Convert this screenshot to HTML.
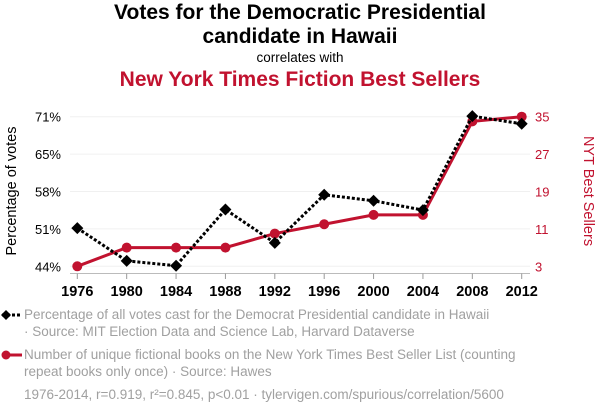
<!DOCTYPE html>
<html><head><meta charset="utf-8"><style>
body{margin:0;background:#fff;font-family:"Liberation Sans",sans-serif}
#wrap{position:relative;width:600px;height:414px;overflow:hidden}
.t{position:absolute;left:0;width:600px;text-align:center}
.leg{position:absolute;left:24px;font-size:13.5px;color:#a0a0a0;line-height:17px}
</style></head><body>
<div id="wrap">
<div class="t" style="top:1px;font-size:21px;font-weight:bold;line-height:24px;color:#000">Votes for the Democratic Presidential<br>candidate in Hawaii</div>
<div class="t" style="top:50px;font-size:13.5px;color:#000">correlates with</div>
<div class="t" style="top:68px;font-size:21px;font-weight:bold;color:#c1122f">New York Times Fiction Best Sellers</div>
<svg id="svg" width="600" height="414" style="position:absolute;left:0;top:0"></svg>
<div class="leg" style="top:306px">Percentage of all votes cast for the Democrat Presidential candidate in Hawaii<br>· Source: MIT Election Data and Science Lab, Harvard Dataverse</div>
<div class="leg" style="top:346px">Number of unique fictional books on the New York Times Best Seller List (counting<br>repeat books only once) · Source: Hawes</div>
<div class="leg" style="left:24px;top:386px">1976-2014, r=0.919, r²=0.845, p&lt;0.01 · tylervigen.com/spurious/correlation/5600</div>
</div>
<script>
const years=[1976,1980,1984,1988,1992,1996,2000,2004,2008,2012];
const votes=[51.0,45.0,44.1,54.4,48.3,57.1,56.0,54.3,71.5,70.1];
const books=[3,7,7,7,10,12,14,14,34,35];
const leftTicks=[44,50.85,57.7,64.55,71.4];
const leftLabels=["44%","51%","58%","65%","71%"];
const rightTicks=[3,11,19,27,35];
const NS="http://www.w3.org/2000/svg";
const svg=document.getElementById('svg');
const X0=77.3,X1=521.7,YB=266.3,YT=116.7;
const x=v=>X0+(v-1976)/(2012-1976)*(X1-X0);
const yl=v=>YB-(v-44)/(71.4-44)*(YB-YT);
const yr=v=>YB-(v-3)/(35-3)*(YB-YT);
function el(t,a){const e=document.createElementNS(NS,t);for(const k in a)e.setAttribute(k,a[k]);svg.appendChild(e);return e;}
leftTicks.forEach((t,i)=>{
 const g=el('line',{x1:70,x2:530,y1:yl(t),y2:yl(t),stroke:'#f0f0f0','stroke-width':1});
 
 
 const tx=el('text',{x:61,y:yl(t)+5,'text-anchor':'end','font-size':13,fill:'#000'});
 tx.textContent=leftLabels[i];
 
 
});
rightTicks.forEach(t=>{
 const tx=el('text',{x:535,y:yr(t)+5,'font-size':13,fill:'#c1122f'});
 tx.textContent=t;
 
 
});
const ax=el('line',{x1:70,x2:530,y1:273.5,y2:273.5,stroke:'#bbb','stroke-width':1});


years.forEach(yv=>{
 const tk=el('line',{x1:x(yv),x2:x(yv),y1:273.5,y2:279,stroke:'#999'});
 
 
 const tx=el('text',{x:x(yv),y:296,'text-anchor':'middle','font-size':14.5,'font-weight':'bold',fill:'#000'});
 tx.textContent=yv;
 
 
});
const yt=el('text',{transform:'translate(16,191) rotate(-90)','text-anchor':'middle','font-size':14.5,fill:'#000'});
yt.textContent='Percentage of votes';


const yt2=el('text',{transform:'translate(584,191) rotate(90)','text-anchor':'middle','font-size':14.5,fill:'#c1122f'});
yt2.textContent='NYT Best Sellers';


const rl=el('polyline',{points:years.map((v,i)=>x(v)+','+yr(books[i])).join(' '),fill:'none',stroke:'#c1122f','stroke-width':3});


years.forEach((v,i)=>{
 const c=el('circle',{cx:x(v),cy:yr(books[i]),r:5,fill:'#c1122f'});
 
 
});
const bl=el('polyline',{points:years.map((v,i)=>x(v)+','+yl(votes[i])).join(' '),fill:'none',stroke:'#000','stroke-width':3,'stroke-dasharray':'3,2'});


years.forEach((v,i)=>{
 const cx=x(v),cy=yl(votes[i]);
 const d=el('polygon',{points:`${cx},${cy-6} ${cx+6},${cy} ${cx},${cy+6} ${cx-6},${cy}`,fill:'#000'});
 
 
});
const l1=el('line',{x1:2,x2:22,y1:315,y2:315,stroke:'#000','stroke-width':3,'stroke-dasharray':'3,2'});


const l1d=el('polygon',{points:'6,310 11,315 6,320 1,315',fill:'#000'});


const l2=el('line',{x1:2,x2:22,y1:355,y2:355,stroke:'#c1122f','stroke-width':3});


const l2c=el('circle',{cx:6,cy:355,r:4.5,fill:'#c1122f'});


</script>
</body></html>
